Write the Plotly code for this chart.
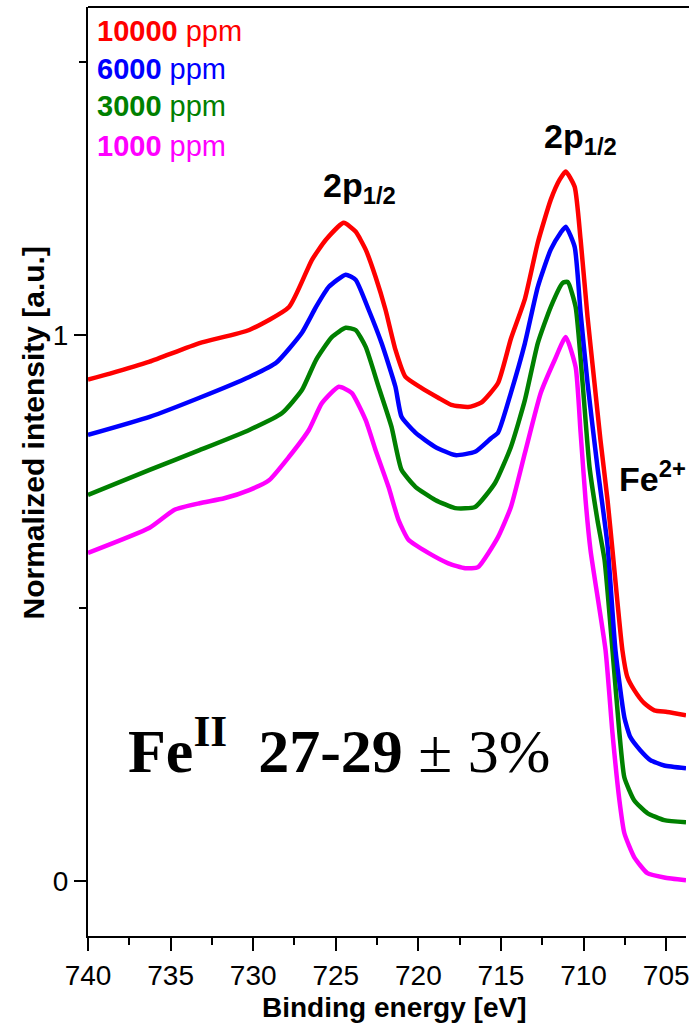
import plotly.graph_objects as go

# Fe 2p XPS spectra, normalized, offset per concentration
be_10000 = [740.0, 738.67, 736.27, 733.25, 730.24, 727.83, 726.45, 725.60, 724.52, 723.80,
            723.19, 722.59, 721.99, 721.39, 720.78, 719.82, 718.80, 718.01, 716.99, 716.20,
            715.18, 714.40, 713.55, 712.77, 711.99, 711.45, 711.08, 710.54, 710.18, 709.76,
            709.34, 708.98, 708.55, 708.25, 707.65, 707.35, 706.93, 706.33, 705.72, 704.94, 703.80]
int_10000 = [0.918, 0.929, 0.951, 0.985, 1.009, 1.051, 1.137, 1.174, 1.205, 1.189,
             1.156, 1.106, 1.046, 0.973, 0.923, 0.903, 0.885, 0.872, 0.868, 0.876,
             0.912, 0.993, 1.066, 1.169, 1.247, 1.284, 1.299, 1.271, 1.174, 1.033,
             0.912, 0.808, 0.698, 0.606, 0.423, 0.374, 0.350, 0.326, 0.313, 0.310, 0.304]

be_6000 = [740.0, 736.27, 733.25, 730.24, 728.61, 727.05, 726.20, 725.42, 724.40, 723.80,
           723.01, 722.23, 721.39, 721.02, 720.18, 718.98, 717.77, 716.57, 715.60, 715.18,
           714.40, 713.55, 712.77, 711.99, 711.39, 711.08, 710.54, 710.18, 709.76, 709.16,
           708.55, 708.07, 707.53, 707.17, 706.57, 705.96, 705.12, 703.80]
int_6000 = [0.817, 0.850, 0.885, 0.923, 0.949, 1.004, 1.051, 1.088, 1.110, 1.101,
            1.046, 0.985, 0.905, 0.850, 0.821, 0.795, 0.780, 0.786, 0.811, 0.821,
            0.894, 0.985, 1.088, 1.156, 1.187, 1.198, 1.161, 1.040, 0.912, 0.758,
            0.615, 0.423, 0.300, 0.264, 0.240, 0.222, 0.212, 0.207]

be_3000 = [740.0, 736.27, 733.25, 730.24, 728.25, 727.05, 726.20, 725.24, 724.40, 723.80,
           723.19, 722.41, 721.63, 721.02, 720.18, 718.98, 717.77, 716.57, 715.36, 714.40,
           713.55, 712.77, 711.99, 711.27, 710.96, 710.48, 710.06, 709.64, 709.16, 708.73,
           708.25, 707.83, 707.53, 706.93, 706.14, 705.12, 703.80]
int_3000 = [0.707, 0.753, 0.789, 0.826, 0.857, 0.899, 0.954, 0.996, 1.013, 1.009,
            0.978, 0.905, 0.832, 0.753, 0.722, 0.698, 0.683, 0.685, 0.729, 0.795,
            0.881, 0.985, 1.051, 1.095, 1.097, 1.051, 0.912, 0.758, 0.661, 0.588,
            0.423, 0.271, 0.190, 0.148, 0.125, 0.112, 0.108]

be_1000 = [740.0, 736.27, 734.76, 733.25, 731.75, 730.24, 729.04, 727.83, 726.63, 725.84,
           724.82, 724.04, 723.19, 722.59, 721.81, 721.20, 720.60, 719.40, 718.19, 717.17,
           716.39, 715.18, 714.40, 713.55, 712.59, 711.75, 711.08, 710.48, 710.18, 709.88,
           709.58, 708.67, 708.25, 707.83, 707.53, 706.93, 706.14, 705.12, 703.80]
int_1000 = [0.601, 0.647, 0.680, 0.692, 0.701, 0.716, 0.734, 0.777, 0.826, 0.875,
            0.905, 0.894, 0.844, 0.789, 0.722, 0.661, 0.625, 0.601, 0.582, 0.573,
            0.575, 0.630, 0.685, 0.784, 0.894, 0.954, 0.996, 0.941, 0.821, 0.698,
            0.606, 0.423, 0.271, 0.148, 0.088, 0.044, 0.015, 0.007, 0.002]

series_labels = ["1000", "3000", "6000", "10000"]
series_colors = ["#FF00FF", "#008000", "#0000FF", "#FF0000"]
series_be = [be_1000, be_3000, be_6000, be_10000]
series_int = [int_1000, int_3000, int_6000, int_10000]

x_ticks = [740, 735, 730, 725, 720, 715, 710, 705]
y_ticks = [0, 1]

SANS = "Liberation Sans, Arial, sans-serif"
SERIF = "Liberation Serif, Times New Roman, serif"

fig = go.Figure()
for lab, col, xs, ys in zip(series_labels, series_colors, series_be, series_int):
    fig.add_trace(go.Scatter(
        x=xs, y=ys, mode="lines", name=lab + " ppm",
        line=dict(color=col, width=4.5, shape="spline", smoothing=0.5),
        showlegend=False,
    ))

# concentration labels, top-left
label_y = [1.557, 1.487, 1.418, 1.346]
for lab, col, yy in zip(series_labels[::-1], series_colors[::-1], label_y):
    fig.add_annotation(
        x=739.55, y=yy, xref="x", yref="y", xanchor="left", yanchor="middle",
        text=f"<b>{lab}</b> ppm", showarrow=False,
        font=dict(family=SANS, size=29, color=col),
    )

peak_font = dict(family=SANS, size=34, color="black")
fig.add_annotation(x=725.9, y=1.27, xref="x", yref="y", xanchor="left", yanchor="middle",
                   text="<b>2p<sub>1/2</sub></b>", showarrow=False, font=peak_font)
fig.add_annotation(x=712.5, y=1.36, xref="x", yref="y", xanchor="left", yanchor="middle",
                   text="<b>2p<sub>1/2</sub></b>", showarrow=False, font=peak_font)
fig.add_annotation(x=708.0, y=0.74, xref="x", yref="y", xanchor="left", yanchor="middle",
                   text="<b>Fe<sup>2+</sup></b>", showarrow=False, font=peak_font)

fig.add_annotation(x=737.7, y=0.247, xref="x", yref="y", xanchor="left", yanchor="middle",
                   text="<b>Fe<sup>II</sup>\u00a0\u00a027-29</b> \u00b1 3%", showarrow=False,
                   font=dict(family=SERIF, size=62, color="black"))

# axis titles
fig.add_annotation(x=0.511, y=-0.077, xref="paper", yref="paper", xanchor="center", yanchor="middle",
                   text="<b>Binding energy [eV]</b>", showarrow=False,
                   font=dict(family=SANS, size=28, color="black"))
fig.add_annotation(x=-0.092, y=0.542, xref="paper", yref="paper", xanchor="center", yanchor="middle",
                   text="<b>Normalized intensity [a.u.]</b>", showarrow=False, textangle=-90,
                   font=dict(family=SANS, size=30, color="black"))

# top frame line
fig.add_shape(type="line", xref="paper", yref="paper", x0=0, x1=1.02, y0=1, y1=1,
              line=dict(color="black", width=2))

fig.update_xaxes(
    range=[740, 703.8], tickvals=x_ticks, ticks="outside", ticklen=13, tickwidth=2,
    tickcolor="black", showline=True, linewidth=2, linecolor="black", showgrid=False,
    zeroline=False, tickfont=dict(family=SANS, size=28, color="black"),
    ticklabeloverflow="allow",
    minor=dict(dtick=2.5, tick0=740, ticks="outside", ticklen=7, tickwidth=2, tickcolor="black", showgrid=False),
)
fig.update_yaxes(
    range=[-0.1, 1.6], tickvals=y_ticks, ticks="outside", ticklen=12, tickwidth=2,
    tickcolor="black", showline=True, linewidth=2, linecolor="black", showgrid=False,
    zeroline=False, tickfont=dict(family=SANS, size=28, color="black"),
    minor=dict(tickvals=[0.5, 1.5], ticks="outside", ticklen=7, tickwidth=2, tickcolor="black", showgrid=False),
)

fig.update_layout(
    width=689, height=1029,
    margin=dict(l=88, r=0, t=7, b=93),
    paper_bgcolor="white", plot_bgcolor="white",
)

fig.write_html("out.html")
